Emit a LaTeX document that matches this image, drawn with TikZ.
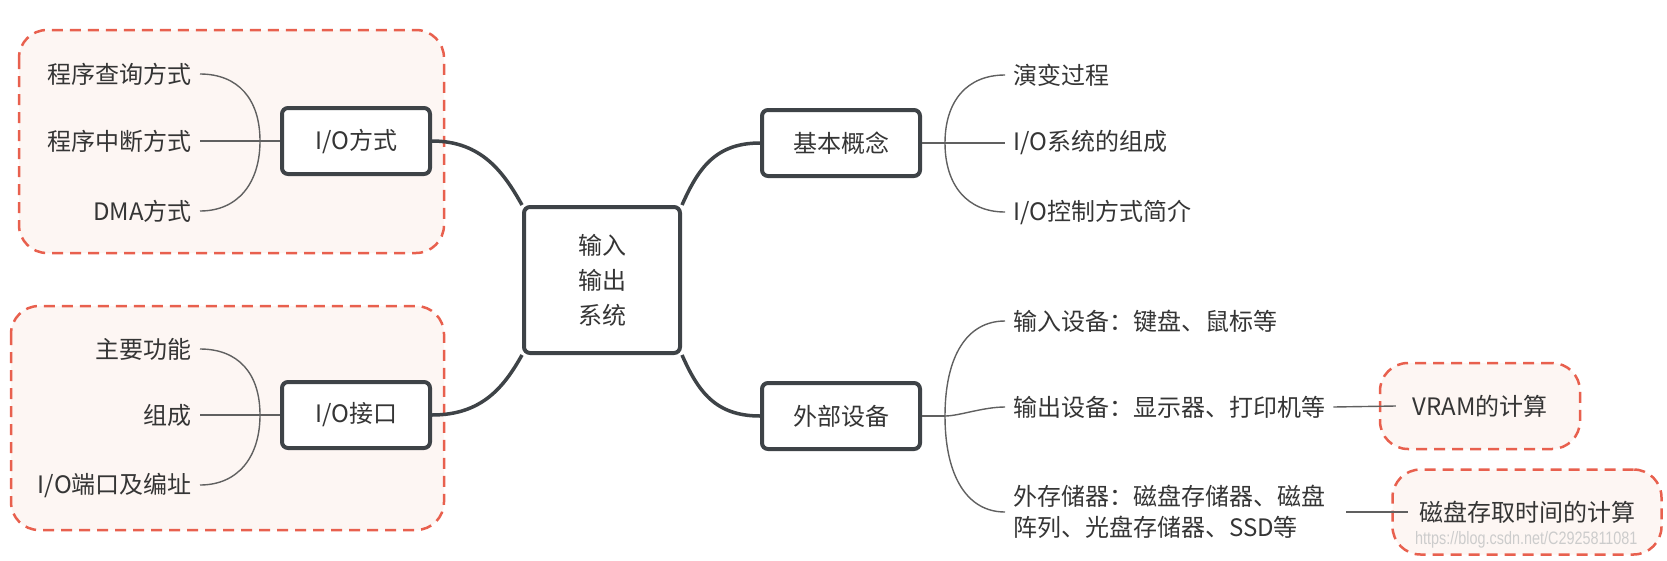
\documentclass[tikz,border=0pt]{standalone}
\usepackage{fontspec}
\setmainfont{Noto Sans CJK SC}
\newfontfamily\wmfont{Liberation Sans}
\usepackage{xcolor}
\usepackage{tikz}
\usetikzlibrary{positioning}

\definecolor{inkgray}{HTML}{353535}
\definecolor{boxgray}{HTML}{3E4347}
\definecolor{thingray}{HTML}{606060}
\definecolor{framered}{HTML}{E8604E}
\definecolor{framefill}{HTML}{FDF6F3}

\tikzset{
  topic/.style={draw=boxgray, line width=4pt, rounded corners=6pt, fill=white,
    minimum width=158pt, minimum height=66pt, text=inkgray,
    font=\fontsize{24}{30}\selectfont},
  leaf/.style={text=inkgray, font=\fontsize{24}{30}\selectfont,
    inner xsep=8pt, inner ysep=0pt},
  grp/.style={draw=framered, fill=framefill, line width=2.5pt,
    dash pattern=on 11pt off 7pt, rounded corners=28pt},
  fatlink/.style={draw=boxgray, line width=3.5pt},
  thinlink/.style={draw=thingray, line width=1.4pt},
}

\begin{document}
\begin{tikzpicture}[x=1pt,y=-1pt]
	\useasboundingbox (0,0) rectangle (1667,560);
	% khung nhom
	\draw[grp] (19,30) rectangle (444,253);
	\draw[grp] (11,306) rectangle (444,530);
	% nut trung tam
	\node[topic, minimum width=156pt, minimum height=146pt, align=center,
	  font=\fontsize{24}{35}\selectfont] (center) at (602,280) {输入\\输出\\系统};
	\node[topic, minimum width=148pt] (fangshi) at (356,141) {I/O方式};
	\node[topic, minimum width=148pt] (jiekou) at (356,415) {I/O接口};
	\node[topic] (gainian) at (841,143) {基本概念};
	\node[topic] (shebei) at (841,416) {外部设备};
	% nhanh trai
	\node[leaf, anchor=east] (f1) at (200,74) {程序查询方式};
	\node[leaf, anchor=east] (f2) at (200,141) {程序中断方式};
	\node[leaf, anchor=east] (f3) at (200,211) {DMA方式};
	\node[leaf, anchor=east] (j1) at (200,349) {主要功能};
	\node[leaf, anchor=east] (j2) at (200,415) {组成};
	\node[leaf, anchor=east] (j3) at (200,485) {I/O端口及编址};
	\coordinate (jf) at (260,141);
	\coordinate (jj) at (260,415);
	% nhanh phai
	\node[leaf, anchor=west] (g1) at (1005,75) {演变过程};
	\node[leaf, anchor=west] (g2) at (1005,143) {I/O系统的组成};
	\node[leaf, anchor=west] (g3) at (1005,212) {I/O控制方式简介};
	\node[leaf, anchor=west] (s1) at (1005,321) {输入设备：键盘、鼠标等};
	\node[leaf, anchor=west] (s2) at (1005,407) {输出设备：显示器、打印机等};
	\node[leaf, anchor=west, align=left, font=\fontsize{24}{31}\selectfont]
	  (s3) at (1005,512) {外存储器：磁盘存储器、磁盘\\阵列、光盘存储器、SSD等};
	\coordinate (jg) at (945,143);
	\coordinate (js) at (945,416);
	% khung ghi chu
	\node[grp, text=inkgray, font=\fontsize{24}{30}\selectfont,
	  minimum width=200pt, minimum height=86pt] (vram) at (1480,406) {VRAM的计算};
	\node[grp, text=inkgray, font=\fontsize{24}{30}\selectfont,
	  minimum width=269pt, minimum height=85pt] (disk) at (1527,512) {磁盘存取时间的计算};
	% duong noi
	\draw[fatlink] (fangshi.east) .. controls +(50,0) and +(-18,-32) .. (center.north west);
	\draw[fatlink] (jiekou.east) .. controls +(50,0) and +(-18,32) .. (center.south west);
	\draw[fatlink] (center.north east) .. controls +(16,-36) and +(-45,0) .. (gainian.west);
	\draw[fatlink] (center.south east) .. controls +(16,36) and +(-45,0) .. (shebei.west);
	\draw[thinlink] (f1.east) .. controls +(38,0) and +(0,-42) .. (jf);
	\draw[thinlink] (f2.east) -- (fangshi.west);
	\draw[thinlink] (f3.east) .. controls +(38,0) and +(0,42) .. (jf);
	\draw[thinlink] (j1.east) .. controls +(38,0) and +(0,-42) .. (jj);
	\draw[thinlink] (j2.east) -- (jiekou.west);
	\draw[thinlink] (j3.east) .. controls +(38,0) and +(0,42) .. (jj);
	\draw[thinlink] (gainian.east) -- (g2.west);
	\draw[thinlink] (jg) .. controls +(0,-42) and +(-38,0) .. (g1.west);
	\draw[thinlink] (jg) .. controls +(0,42) and +(-38,0) .. (g3.west);
	\draw[thinlink] (shebei.east) -- (js);
	\draw[thinlink] (js) .. controls +(0,-60) and +(-38,0) .. (s1.west);
	\draw[thinlink] (js) .. controls +(14,0) and +(-22,0) .. (s2.west);
	\draw[thinlink] (js) .. controls +(0,60) and +(-38,0) .. (s3.west);
	\draw[thinlink] (s2.east) -- ([xshift=17pt]vram.west);
	\draw[thinlink] ([xshift=13pt]s3.east) -- ([xshift=17pt]disk.west);
	% chu mo
	\node[anchor=west, text=gray!40, inner sep=0pt, font=\wmfont\fontsize{18}{20}\selectfont]
	  (mark) at (1415,540) {\scalebox{0.8}[1]{https://blog.csdn.net/C2925811081}};
\end{tikzpicture}
\end{document}
